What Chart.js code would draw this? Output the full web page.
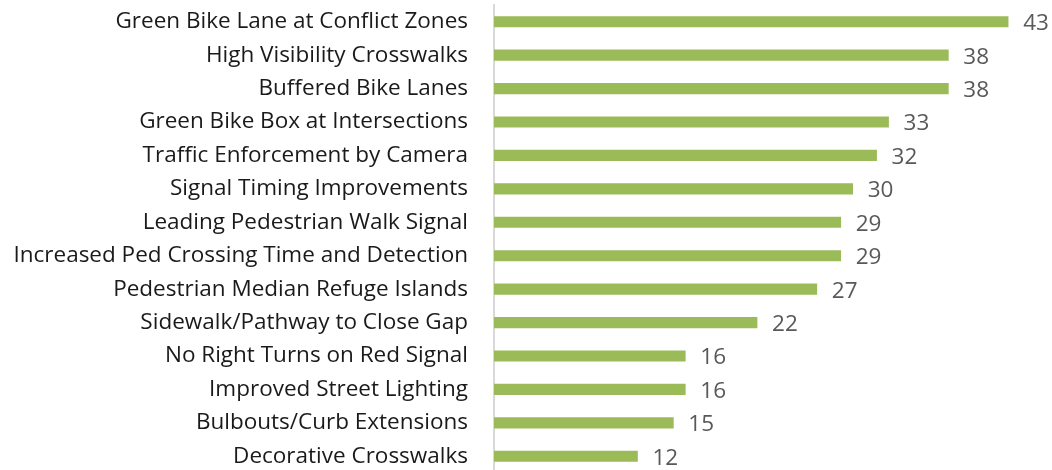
<!DOCTYPE html>
<html>
<head>
<meta charset="utf-8">
<script src="https://cdn.jsdelivr.net/npm/chart.js@4/dist/chart.umd.min.js"></script>
<style>
  html, body { margin: 0; padding: 0; background: #ffffff; overflow: hidden; }
  #wrap { width: 1052px; height: 470px; overflow: hidden; }
  #c { display: block; }
</style>
</head>
<body>
<div id="wrap"><canvas id="c" width="1052" height="473"></canvas></div>
<script>
const categories = [
  "Green Bike Lane at Conflict Zones",
  "High Visibility Crosswalks",
  "Buffered Bike Lanes",
  "Green Bike Box at Intersections",
  "Traffic Enforcement by Camera",
  "Signal Timing Improvements",
  "Leading Pedestrian Walk Signal",
  "Increased Ped Crossing Time and Detection",
  "Pedestrian Median Refuge Islands",
  "Sidewalk/Pathway to Close Gap",
  "No Right Turns on Red Signal",
  "Improved Street Lighting",
  "Bulbouts/Curb Extensions",
  "Decorative Crosswalks"
];
const counts = [43, 38, 38, 33, 32, 30, 29, 29, 27, 22, 16, 16, 15, 12];

const FONT = "'Open Sans', 'Noto Sans', sans-serif";

// Writes each bar's value just past its end
const valueLabels = {
  id: 'valueLabels',
  afterDatasetsDraw(chart) {
    const ctx = chart.ctx;
    const meta = chart.getDatasetMeta(0);
    ctx.save();
    ctx.font = '22.5px ' + FONT;
    ctx.fillStyle = '#595959';
    ctx.textAlign = 'left';
    ctx.textBaseline = 'middle';
    meta.data.forEach((bar, i) => {
      ctx.fillText(String(counts[i]), bar.x + 15, bar.y + 2);
    });
    ctx.restore();
  }
};

new Chart(document.getElementById('c'), {
  type: 'bar',
  data: {
    labels: categories,
    datasets: [{
      data: counts,
      backgroundColor: '#9bbb59',
      borderWidth: 0,
      barThickness: 10.5
    }]
  },
  options: {
    indexAxis: 'y',
    responsive: false,
    animation: false,
    layout: { padding: { top: 5, right: 8, bottom: 0, left: 0 } },
    plugins: { legend: { display: false }, tooltip: { enabled: false } },
    scales: {
      x: {
        display: false,
        min: 0,
        max: 46
      },
      y: {
        afterFit(scale) {
          scale.width = 494;
          scale.paddingTop = 0;
          scale.paddingBottom = 0;
        },
        grid: { display: false, drawTicks: false },
        border: { display: true, color: '#d9d9d9', width: 2 },
        ticks: {
          color: '#1a1a1a',
          padding: 26,
          autoSkip: false,
          font: { family: FONT, size: 22.5 }
        }
      }
    }
  },
  plugins: [valueLabels]
});
</script>
</body>
</html>
